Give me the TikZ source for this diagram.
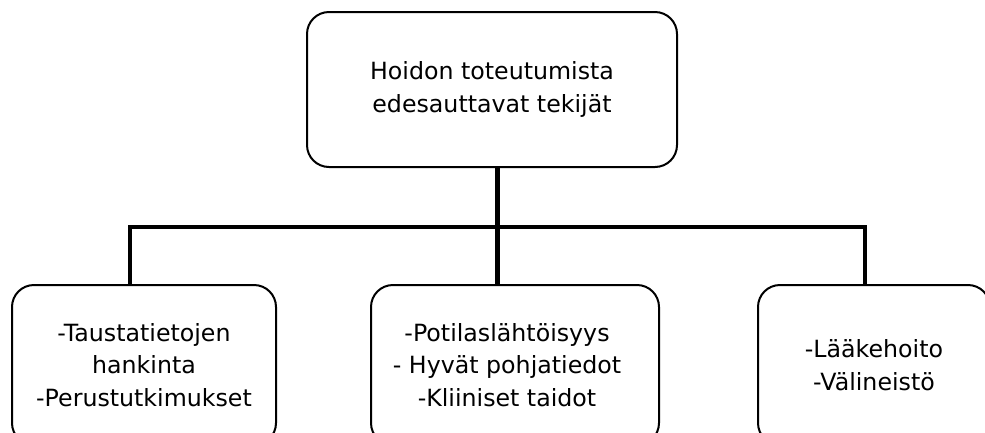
\documentclass[tikz,border=0pt]{standalone}
\usepackage{fontspec}
\setmainfont{DejaVu Sans}
\begin{document}
\begin{tikzpicture}[x=1pt,y=-1pt,
  box/.style={draw=black,line width=2pt,rounded corners=22pt,align=center,
    font=\fontsize{23.7}{32.5}\selectfont,inner sep=0pt}]
\useasboundingbox (0,0) rectangle (985,432);
\clip (0,0) rectangle (985,432);
\node[box,minimum width=370pt,minimum height=155pt] (top) at (492,89.5)
  {Hoidon toteutumista\\edesauttavat tekijät};
\node[box,minimum width=264pt,minimum height=160pt] (left) at (144,365)
  {-Taustatietojen\\hankinta\\-Perustutkimukset};
\node[box,minimum width=288pt,minimum height=160pt] (mid) at (515,365)
  {\hspace*{-16pt}-Potilaslähtöisyys\\\hspace*{-16pt}- Hyvät pohjatiedot\\\hspace*{-16pt}-Kliiniset taidot};
\node[box,minimum width=232pt,minimum height=160pt] (right) at (874,365)
  {-Lääkehoito\\-Välineistö};
\coordinate (j) at (497,227);
\coordinate (lj) at (130,227);
\coordinate (rj) at (865,227);
\draw[line width=5pt] (top.south -| j) -- (mid.north -| j);
\draw[line width=4.5pt] (left.north -| lj) -- (lj) -- (rj) -- (right.north -| rj);
\end{tikzpicture}
\end{document}
